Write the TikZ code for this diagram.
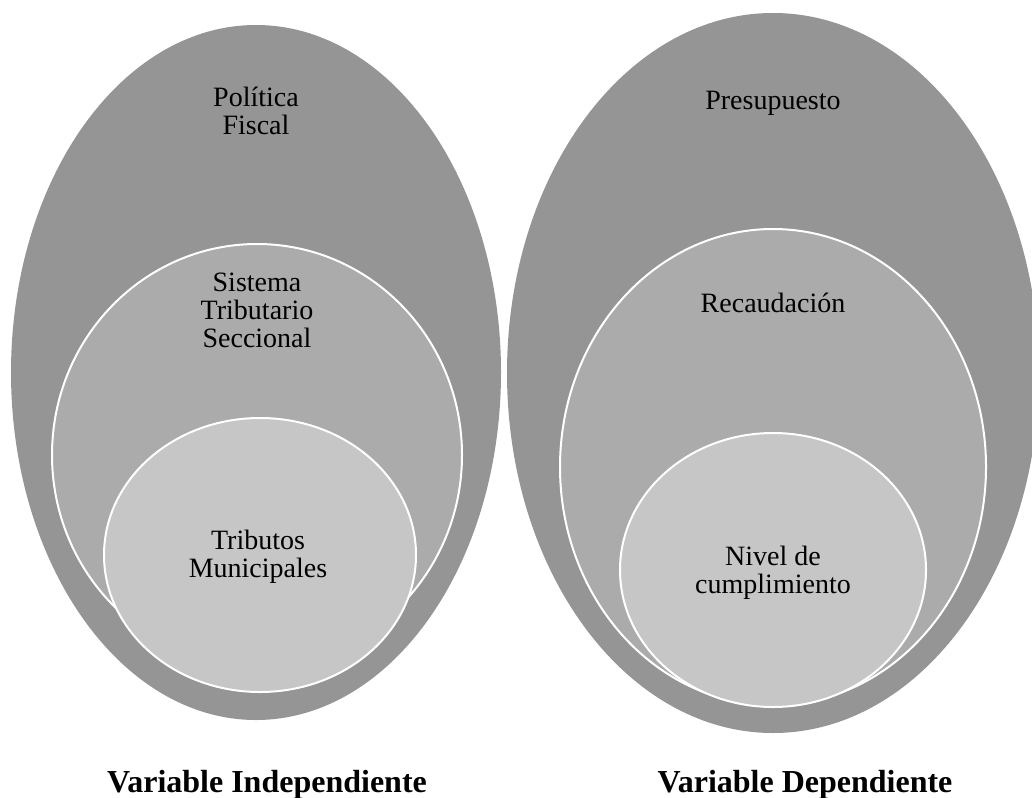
\documentclass[tikz,border=0pt]{standalone}
\usepackage{fontspec}
\setmainfont{Liberation Serif}
\usetikzlibrary{shapes.geometric}
\definecolor{outerg}{RGB}{149,149,149}
\definecolor{midg}{RGB}{171,171,171}
\definecolor{innerg}{RGB}{198,198,198}
\tikzset{
  outerell/.style={ellipse, fill=outerg, draw=none, inner sep=0pt, outer sep=0pt},
  midell/.style={ellipse, fill=midg, draw=white, line width=2pt, inner sep=0pt, outer sep=0pt},
  innerell/.style={ellipse, fill=innerg, draw=white, line width=2pt, inner sep=0pt, outer sep=0pt},
  lbl/.style={anchor=base, align=center, inner sep=0pt, font=\fontsize{28}{28}\selectfont},
  title/.style={anchor=base, align=center, inner sep=0pt, font=\fontsize{32}{32}\selectfont\bfseries}
}
\begin{document}
\begin{tikzpicture}[x=1pt,y=-1pt]
\useasboundingbox (0,0) rectangle (1032,797);
% left group
\node[outerell, minimum width=490pt, minimum height=695pt] (LO) at (256,372.5) {};
\node[midell, minimum width=410pt, minimum height=422pt] (LM) at (257,455) {};
\node[innerell, minimum width=312pt, minimum height=274pt] (LI) at (260,555) {};
% right group
\node[outerell, minimum width=532pt, minimum height=720pt] (RO) at (773,373) {};
\node[midell, minimum width=426pt, minimum height=476pt] (RM) at (773,467) {};
\node[innerell, minimum width=306pt, minimum height=274pt] (RI) at (773,570) {};
% labels (base = baseline of last line)
\node[lbl] (tPF) at (256,134) {Política\\Fiscal};
\node[lbl] (tSTS) at (257,347) {Sistema\\Tributario\\Seccional};
\node[lbl] (tTM) at (258,577) {Tributos\\Municipales};
\node[lbl] (tP) at (773,110) {Presupuesto};
\node[lbl] (tR) at (773,312) {Recaudación};
\node[lbl] (tNC) at (773,593) {Nivel de\\cumplimiento};
\node[title] (tVI) at (267,792) {Variable Independiente};
\node[title] (tVD) at (805,792) {Variable Dependiente};
\end{tikzpicture}
\end{document}
